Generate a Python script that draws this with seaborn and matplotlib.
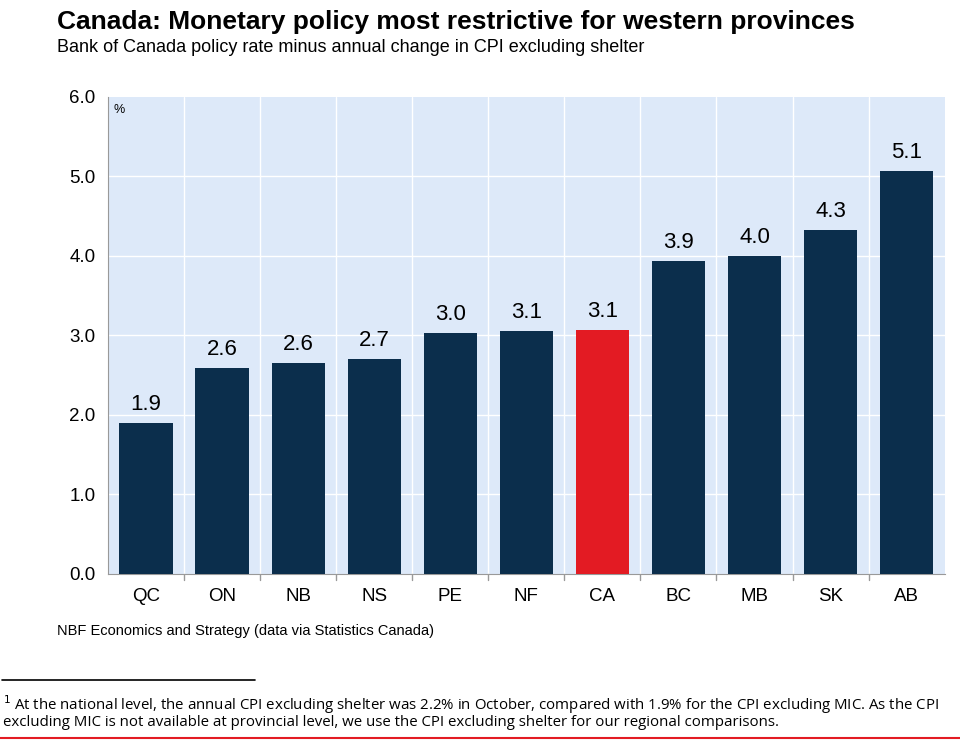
import numpy as np
import pandas as pd
import seaborn as sns
from matplotlib import pyplot as plt
from matplotlib.lines import Line2D

# Chart data
provinces = ['QC', 'ON', 'NB', 'NS', 'PE', 'NF', 'CA', 'BC', 'MB', 'SK', 'AB']
real_rate = [1.90, 2.59, 2.65, 2.70, 3.03, 3.06, 3.07, 3.94, 4.00, 4.33, 5.07]
bar_labels = ['1.9', '2.6', '2.6', '2.7', '3.0', '3.1', '3.1', '3.9', '4.0', '4.3', '5.1']
y_ticks = [0.0, 1.0, 2.0, 3.0, 4.0, 5.0, 6.0]

navy = '#0b2e4c'
red = '#e31b23'
bg = '#dde9f9'

sns.set_style('white')
plt.rcParams['font.family'] = ['Liberation Sans', 'DejaVu Sans']
plt.rcParams['text.color'] = 'black'
plt.rcParams['xtick.color'] = 'black'
plt.rcParams['ytick.color'] = 'black'

df = pd.DataFrame({'province': provinces, 'value': real_rate})
palette = {p: (red if p == 'CA' else navy) for p in provinces}

fig = plt.figure(figsize=(9.6, 7.41), dpi=100)
ax = fig.add_axes([0.1125, 0.2254, 0.8715, 0.6437])
sns.barplot(data=df, x='province', y='value', hue='province', palette=palette,
            width=0.7, legend=False, ax=ax, zorder=3, saturation=1, linewidth=0)

ax.set_facecolor(bg)
ax.set_ylim(0, 6)
ax.set_xlim(-0.5, len(provinces) - 0.5)
ax.set_yticks(y_ticks)
ax.set_yticklabels([f'{t:.1f}' for t in y_ticks], fontsize=13.5)
ax.set_xticks(np.arange(len(provinces)))
ax.set_xticklabels(provinces, fontsize=13.5)
ax.tick_params(axis='x', length=0, pad=10)
ax.tick_params(axis='y', length=5, color='#999999', direction='out', pad=4)
ax.set_xlabel('')
ax.set_ylabel('')

# gridlines: horizontal at ticks, vertical at category boundaries
for t in y_ticks[1:-1]:
    ax.axhline(t, color='white', lw=1, zorder=1)
for b in np.arange(0.5, len(provinces) - 0.5, 1):
    ax.axvline(b, color='white', lw=1, zorder=1)
    ax.plot([b, b], [0, -0.08], color='#999999', lw=1, clip_on=False, zorder=4)

for s in ['top', 'right']:
    ax.spines[s].set_visible(False)
ax.spines['left'].set_color('#999999')
ax.spines['bottom'].set_color('#999999')

for i, (v, lab) in enumerate(zip(real_rate, bar_labels)):
    ax.text(i, v + 0.1, lab, ha='center', va='bottom', fontsize=16, color='black', zorder=5)

ax.text(0.006, 0.985, '%', transform=ax.transAxes, ha='left', va='top', fontsize=9)

fig.text(57 / 960, 1 - 22 / 741, 'Canada: Monetary policy most restrictive for western provinces',
         fontsize=19, fontweight='bold', va='center', ha='left')
fig.text(57 / 960, 1 - 48 / 741, 'Bank of Canada policy rate minus annual change in CPI excluding shelter',
         fontsize=13, va='center', ha='left')
fig.text(57 / 960, 1 - 631 / 741, 'NBF Economics and Strategy (data via Statistics Canada)',
         fontsize=10.5, va='center', ha='left')

fig.add_artist(Line2D([2 / 960, 255 / 960], [1 - 680 / 741, 1 - 680 / 741],
                      color='black', lw=1.2))
fig.text(3 / 960, 1 - 705 / 741,
         r'$^1$ At the national level, the annual CPI excluding shelter was 2.2% in October, '
         'compared with 1.9% for the CPI excluding MIC. As the CPI',
         fontsize=10.8, va='center', ha='left', family=['Open Sans', 'DejaVu Sans'])
fig.text(3 / 960, 1 - 723 / 741,
         'excluding MIC is not available at provincial level, we use the CPI excluding shelter '
         'for our regional comparisons.',
         fontsize=10.8, va='center', ha='left', family=['Open Sans', 'DejaVu Sans'])
fig.add_artist(Line2D([0, 1], [1 - 738 / 741, 1 - 738 / 741], color=red, lw=1.5))

fig.savefig('out.png', dpi=100)
